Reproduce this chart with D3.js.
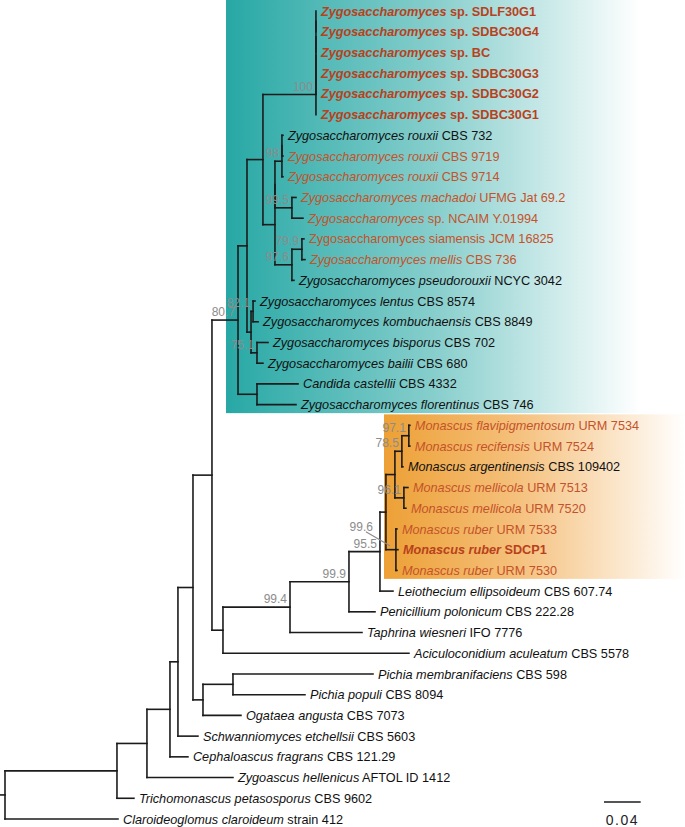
<!DOCTYPE html>
<html>
<head>
<meta charset="utf-8">
<script src="https://cdn.jsdelivr.net/npm/d3@7/dist/d3.min.js"></script>
<style>
  html, body { margin: 0; padding: 0; background: #fff; }
  svg { display: block; font-family: "Liberation Sans", Arial, Helvetica, sans-serif; }
</style>
</head>
<body>
<svg id="chart" width="685" height="827"></svg>
<script>
// ---------------- DATA ----------------
// Tree topology (preorder) with branch lengths (substitutions/site)
const nodeIds = ["root","A","B","C","D","E","J","Z1","Z2","T","S","S4","S3","S2","S1","L1","L2","L3","L4","L5","L6",
  "U","UV","V","V1","L7","L8","L9","X","L10","L11","Y","Yb","L12","L13","L14",
  "AD","AB","L15","L16","AC","L17","L18","AE","L19","L20",
  "H","I","K","Lnode","M","O","P","R","L21","L22","L23","Q","L24","L25","N","L26","L27","L28","L29","L30","L31","L32",
  "F","G","L33","L34","L35","L36","L37","L38","L39","L40"];
const parentIds = ["","root","A","B","C","D","E","J","Z1","Z2","T","S","S4","S3","S2","S1","S1","S2","S3","S4","S",
  "T","U","UV","V","V1","V1","V","UV","X","X","U","Y","Yb","Yb","Y",
  "Z2","AD","AB","AB","AD","AC","AC","Z1","AE","AE",
  "J","H","I","K","Lnode","M","O","P","R","R","P","O","Q","Q","M","N","N","N","Lnode","K","I","H",
  "E","F","G","G","F","D","C","B","A","root"];
const branchLengths = [0,0.1221,0.0327,0.0251,0.0087,0.0164,0.0207,0.0284,0.0098,0.0174,0.0578,0,0,0,0,0,0,0,0,0,0,
  0.0131,0,0.0076,0,0.0011,0.0011,0.0011,0.0185,0.0044,0.0120,0.0185,0.0109,0.0022,0.0033,0.0022,
  0.0044,0.0022,0.0022,0.0055,0.0065,0.0120,0.0065,0.0207,0.0447,0.0425,
  0.0120,0.0731,0.0643,0.0338,0.0065,0.0098,0.0076,0.0076,0.0011,0.0011,0.0011,0.0098,0.0044,0.0022,0.0109,0.0011,0.0022,0.0011,0.0142,0.0284,0.0785,0.2028,
  0.0109,0.0327,0.1527,0.0785,0.0414,0.0218,0.0196,0.0938,0.0185,0.1232];

// Leaf labels: italic (taxon) part and upright (strain) part
const leafIds = ["L1","L2","L3","L4","L5","L6","L7","L8","L9","L10","L11","L12","L13","L14","L15","L16","L17","L18","L19","L20",
  "L21","L22","L23","L24","L25","L26","L27","L28","L29","L30","L31","L32","L33","L34","L35","L36","L37","L38","L39","L40"];
const taxonNames = ["Zygosaccharomyces","Zygosaccharomyces","Zygosaccharomyces","Zygosaccharomyces","Zygosaccharomyces","Zygosaccharomyces",
  "Zygosaccharomyces rouxii","Zygosaccharomyces rouxii","Zygosaccharomyces rouxii","Zygosaccharomyces machadoi","Zygosaccharomyces",
  "","Zygosaccharomyces mellis","Zygosaccharomyces pseudorouxii","Zygosaccharomyces lentus","Zygosaccharomyces kombuchaensis",
  "Zygosaccharomyces bisporus","Zygosaccharomyces bailii","Candida castellii","Zygosaccharomyces florentinus",
  "Monascus flavipigmentosum","Monascus recifensis","Monascus argentinensis","Monascus mellicola","Monascus mellicola",
  "Monascus ruber","Monascus ruber","Monascus ruber","Leiothecium ellipsoideum","Penicillium polonicum","Taphrina wiesneri",
  "Aciculoconidium aculeatum","Pichia membranifaciens","Pichia populi","Ogataea angusta","Schwanniomyces etchellsii",
  "Cephaloascus fragrans","Zygoascus hellenicus","Trichomonascus petasosporus","Claroideoglomus claroideum"];
const strainNames = ["sp. SDLF30G1","sp. SDBC30G4","sp. BC","sp. SDBC30G3","sp. SDBC30G2","sp. SDBC30G1",
  "CBS 732","CBS 9719","CBS 9714","UFMG Jat 69.2","sp. NCAIM Y.01994","Zygosaccharomyces siamensis JCM 16825","CBS 736","NCYC 3042",
  "CBS 8574","CBS 8849","CBS 702","CBS 680","CBS 4332","CBS 746",
  "URM 7534","URM 7524","CBS 109402","URM 7513","URM 7520","URM 7533","SDCP1","URM 7530",
  "CBS 607.74","CBS 222.28","IFO 7776","CBS 5578","CBS 598","CBS 8094","CBS 7073","CBS 5603","CBS 121.29","AFTOL ID 1412","CBS 9602","strain 412"];
// Leaf group: "study" (isolates of this study), "ref" (highlighted references), "other"
const leafGroups = ["study","study","study","study","study","study","other","ref","ref","ref","ref","ref","ref","other",
  "other","other","other","other","other","other","ref","ref","other","ref","ref","ref","study","ref",
  "other","other","other","other","other","other","other","other","other","other","other","other"];

// Bootstrap support values
const supportNodes  = ["S","V","X","Yb","Y","Z1","AB","AC","R","P","Q","N","Lnode","K","I"];
const supportValues = [100,98,99.5,79.9,97.6,80.7,82.1,75.1,97.1,78.5,96.1,99.6,95.5,99.9,99.4];

// Highlighted clades (first and last leaf)
const cladeFirst = ["L1","L21"];
const cladeLast  = ["L20","L28"];

const scaleBarValue = 0.04;

// ---------------- DRAW ----------------
const svg = d3.select("#chart");

const rows = nodeIds.map((id, i) => ({id, parent: parentIds[i] || null, len: branchLengths[i]}));
const root = d3.stratify().id(d => d.id).parentId(d => d.parent)(rows);

root.eachBefore(n => { n.dist = n.parent ? n.parent.dist + n.data.len : 0; });

const x = d3.scaleLinear().domain([0, 0.5]).range([5, 5 + 0.5 * 917]);
const leaves = root.leaves();
const y = d3.scaleLinear().domain([0, leaves.length - 1]).range([11, 819]);
leaves.forEach((l, i) => { l.y = y(i); });
root.eachAfter(n => {
  n.x = x(n.dist);
  if (n.children) n.y = (n.children[0].y + n.children[n.children.length - 1].y) / 2;
});
const byId = new Map(root.descendants().map(n => [n.id, n]));

// Gradients
const defs = svg.append("defs");
const gT = defs.append("linearGradient").attr("id", "gTeal").attr("x1", "0").attr("x2", "1").attr("y1", "0").attr("y2", "0");
gT.append("stop").attr("offset", "0").attr("stop-color", "#27a8a5");
gT.append("stop").attr("offset", "0.5").attr("stop-color", "#86cecc");
gT.append("stop").attr("offset", "1").attr("stop-color", "#ffffff");
const gO = defs.append("linearGradient").attr("id", "gOrange").attr("x1", "0").attr("x2", "1").attr("y1", "0").attr("y2", "0");
gO.append("stop").attr("offset", "0").attr("stop-color", "#eda035");
gO.append("stop").attr("offset", "0.45").attr("stop-color", "#f5c17e");
gO.append("stop").attr("offset", "1").attr("stop-color", "#ffffff");

// Clade background boxes
const boxSpec = [
  {fill: "url(#gTeal)", left: 226, right: 640, padTop: 11, padBottom: 8.5},
  {fill: "url(#gOrange)", left: 384, right: 685, padTop: 11, padBottom: 8.5}
];
cladeFirst.forEach((f, i) => {
  const a = byId.get(f), b = byId.get(cladeLast[i]);
  const s = boxSpec[i];
  svg.append("rect")
    .attr("x", s.left).attr("y", Math.max(0, a.y - s.padTop))
    .attr("width", s.right - s.left)
    .attr("height", (b.y + s.padBottom) - Math.max(0, a.y - s.padTop))
    .attr("fill", s.fill);
});

// Branches
const g = svg.append("g").attr("stroke", "#1b1b1b").attr("stroke-width", 1.6).attr("fill", "none").attr("stroke-linecap", "square");
root.descendants().forEach(n => {
  if (n.parent) {
    if (n.x - n.parent.x > 0.01)
      g.append("line").attr("x1", n.parent.x).attr("x2", n.x).attr("y1", n.y).attr("y2", n.y);
  } else {
    g.append("line").attr("x1", 0).attr("x2", n.x).attr("y1", n.y).attr("y2", n.y);
  }
  if (n.children) {
    g.append("line").attr("x1", n.x).attr("x2", n.x)
      .attr("y1", n.children[0].y).attr("y2", n.children[n.children.length - 1].y);
  }
});

// Leaf labels
const colorFor = {study: "#b8411c", ref: "#c4532a", other: "#111111"};
leaves.forEach(l => {
  const i = leafIds.indexOf(l.id);
  const grp = leafGroups[i];
  const t = svg.append("text")
    .attr("x", l.x + 5).attr("y", l.y).attr("dy", "0.36em")
    .attr("font-size", 12.7)
    .attr("fill", colorFor[grp])
    .attr("font-weight", grp === "study" ? "bold" : "normal");
  if (taxonNames[i]) t.append("tspan").attr("font-style", "italic").text(taxonNames[i]);
  t.append("tspan").text((taxonNames[i] ? " " : "") + strainNames[i]);
});

// Support values
supportNodes.forEach((id, i) => {
  const n = byId.get(id);
  const label = String(supportValues[i]);
  if (id === "N") {
    svg.append("line").attr("x1", n.x - 30).attr("y1", n.y - 18).attr("x2", n.x - 6).attr("y2", n.y - 4)
      .attr("stroke", "#8c8c8c").attr("stroke-width", 1.2);
    svg.append("text").attr("x", n.x - 23).attr("y", n.y - 19).attr("text-anchor", "end")
      .attr("font-size", 12).attr("fill", "#8c8c8c").text(label);
  } else {
    svg.append("text").attr("x", n.x - 3).attr("y", n.y - 4).attr("text-anchor", "end")
      .attr("font-size", 12).attr("fill", "#8c8c8c").text(label);
  }
});

// Scale bar
const sbLen = x(scaleBarValue) - x(0);
const sbX = 604, sbY = 802;
svg.append("line").attr("x1", sbX).attr("x2", sbX + sbLen).attr("y1", sbY).attr("y2", sbY)
  .attr("stroke", "#1b1b1b").attr("stroke-width", 1.6);
svg.append("text").attr("x", sbX + sbLen / 2).attr("y", 825).attr("text-anchor", "middle")
  .attr("font-size", 14).attr("letter-spacing", "1.5").attr("fill", "#222").text(String(scaleBarValue));
</script>
</body>
</html>
